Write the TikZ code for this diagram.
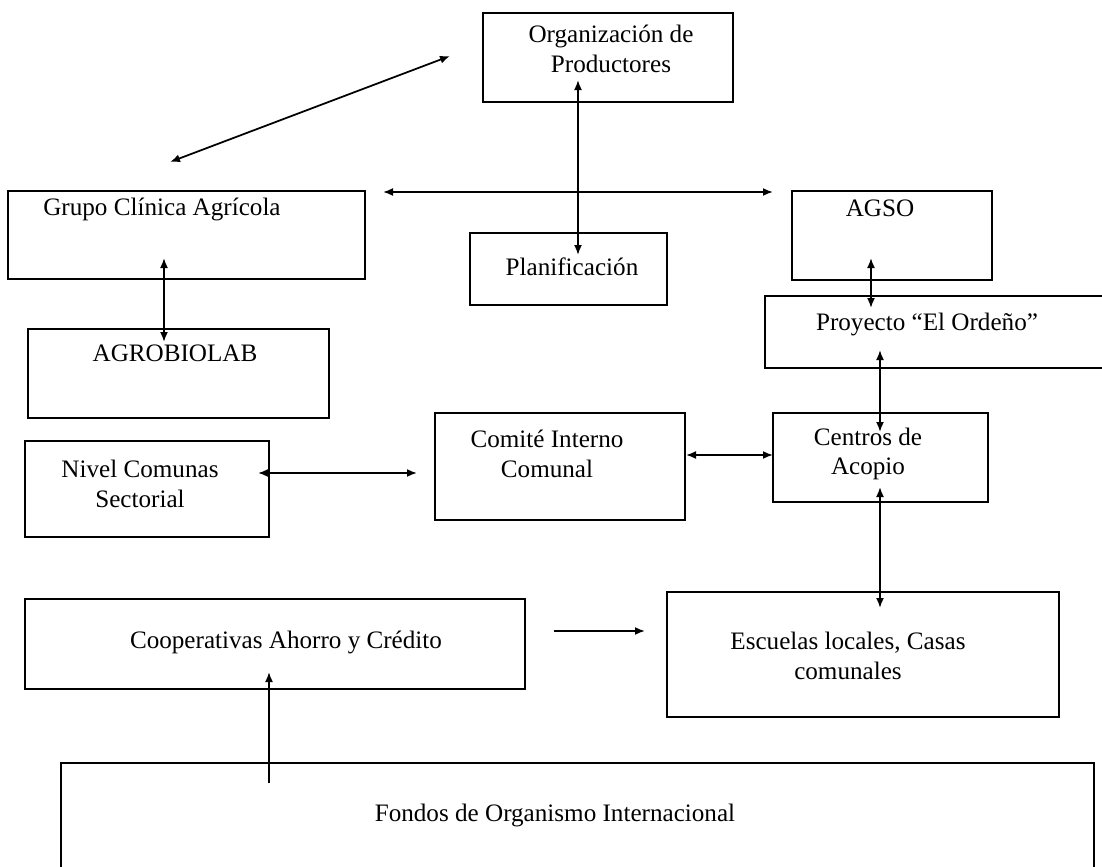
\documentclass[tikz,border=0pt]{standalone}
\usepackage{fontspec}
\setmainfont{Liberation Serif}
\usetikzlibrary{arrows.meta}
\begin{document}
\begin{tikzpicture}[x=0.2mm,y=-0.2mm,>={Latex[length=2mm,width=1.6mm]},
    box/.style={draw,line width=1.1pt,inner sep=0pt,outer sep=0pt,anchor=north west},
    lbl/.style={font=\fontsize{14.3}{17}\selectfont,inner sep=0pt,align=center},
    link/.style={line width=1pt}]
    \useasboundingbox (0,0) rectangle (1102,867);
    \node[box,minimum width=50mm,minimum height=17.8mm] (org) at (483,13) {};
    \node[box,minimum width=71.4mm,minimum height=17.6mm] (grupo) at (8,191) {};
    \node[box,minimum width=39.4mm,minimum height=14.4mm] (plan) at (470,233) {};
    \node[box,minimum width=40mm,minimum height=17.8mm] (agso) at (792,191) {};
    \node[box,minimum width=69mm,minimum height=14.4mm] (proy) at (765,296) {};
    \node[box,minimum width=60.2mm,minimum height=17.8mm] (agro) at (28,329) {};
    \node[box,minimum width=48.8mm,minimum height=19.2mm] (nivel) at (25,441) {};
    \node[box,minimum width=50mm,minimum height=21.4mm] (comite) at (435,413) {};
    \node[box,minimum width=43mm,minimum height=17.8mm] (centros) at (773,413) {};
    \node[box,minimum width=100mm,minimum height=18mm] (coop) at (25,599) {};
    \node[box,minimum width=78.4mm,minimum height=25mm] (escuelas) at (667,592) {};
    \node[box,minimum width=206.6mm,minimum height=24mm] (fondos) at (61,763) {};

    \node[lbl] (orgtxt) at (611,49) {Organización de\\Productores};
    \node[lbl,anchor=west] (grupotxt) at (43,209) {Grupo Clínica Agrícola};
    \node[lbl] (plantxt) at (572,267) {Planificación};
    \node[lbl] (agsotxt) at (880,208) {AGSO};
    \node[lbl] (proytxt) at (927,324) {Proyecto “El Ordeño”};
    \node[lbl] (agrotxt) at (175,353) {AGROBIOLAB};
    \node[lbl] (niveltxt) at (140,484) {Nivel Comunas\\Sectorial};
    \node[lbl] (comitetxt) at (547,454) {Comité Interno\\Comunal};
    \node[lbl] (centrostxt) at (868,454) {Centros de\\Acopio};
    \node[lbl] (cooptxt) at (286,642) {Cooperativas Ahorro y Crédito};
    \node[lbl] (escuelastxt) at (848,656) {Escuelas locales, Casas\\comunales};
    \node[lbl] (fondostxt) at (555,815) {Fondos de Organismo Internacional};

    \coordinate (diagS) at (170,162);
    \coordinate (diagN) at (450,56);
    \coordinate (orgN) at (578,80);
    \coordinate (planS) at (578,255);
    \coordinate (midW) at (383,192);
    \coordinate (midE) at (773,192);
    \coordinate (grupoS) at (164,258);
    \coordinate (agroN) at (164,342);
    \coordinate (agsoS) at (871,258);
    \coordinate (proyN) at (871,308);
    \coordinate (proyS) at (880,350);
    \coordinate (centrosN) at (880,432);
    \coordinate (nivelE) at (258,473);
    \coordinate (comiteW) at (417,473);
    \coordinate (comiteE) at (686,455);
    \coordinate (centrosW) at (773,455);
    \coordinate (centrosS) at (880,487);
    \coordinate (escuelasN) at (880,608);
    \coordinate (coopE) at (554,631);
    \coordinate (escuelasW) at (645,631);
    \coordinate (fondosN) at (269,783);
    \coordinate (coopS) at (269,672);

    \draw[link,<->] (diagS) -- (diagN);
    \draw[link,<->] (orgN) -- (planS);
    \draw[link,<->] (midW) -- (midE);
    \draw[link,<->] (grupoS) -- (agroN);
    \draw[link,<->] (agsoS) -- (proyN);
    \draw[link,<->] (proyS) -- (centrosN);
    \draw[link,<->] (nivelE) -- (comiteW);
    \draw[link,<->] (comiteE) -- (centrosW);
    \draw[link,<->] (centrosS) -- (escuelasN);
    \draw[link,->] (coopE) -- (escuelasW);
    \draw[link,->] (fondosN) -- (coopS);
\end{tikzpicture}
\end{document}
